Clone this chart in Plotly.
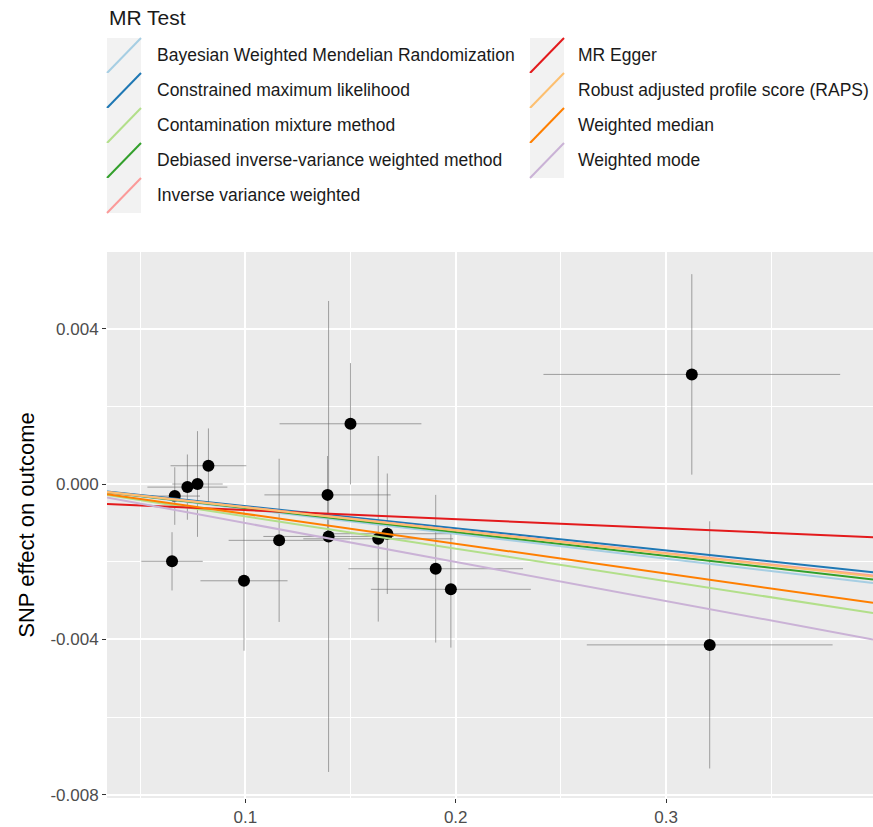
import numpy as np
import plotly.graph_objects as go

# ---------------- data ----------------
snp_exposure = [0.0665, 0.0725, 0.0773, 0.0825, 0.0652, 0.0994, 0.1161, 0.1391,
                0.1396, 0.1500, 0.1632, 0.1675, 0.1905, 0.1977, 0.3122, 0.3207]
snp_outcome = [-0.00031, -0.00008, 0.00000, 0.00047, -0.00199, -0.00249, -0.00145, -0.00028,
               -0.00135, 0.00155, -0.00141, -0.00128, -0.00218, -0.00271, 0.00282, -0.00414]
se_exposure = [0.0120, 0.0190, 0.0120, 0.0180, 0.0146, 0.0207, 0.0240, 0.0300,
               0.0310, 0.0337, 0.0356, 0.0300, 0.0415, 0.0380, 0.0705, 0.0584]
se_outcome = [0.00074, 0.00084, 0.00136, 0.00096, 0.00075, 0.00180, 0.00210, 0.00100,
              0.00606, 0.00156, 0.00213, 0.00155, 0.00190, 0.00150, 0.00258, 0.00318]

methods = ["Bayesian Weighted Mendelian Randomization",
           "Constrained maximum likelihood",
           "Contamination mixture method",
           "Debiased inverse-variance weighted method",
           "Inverse variance weighted",
           "MR Egger",
           "Robust adjusted profile score (RAPS)",
           "Weighted median",
           "Weighted mode"]
slopes = [-0.00640, -0.00570, -0.00833, -0.00617, -0.00592, -0.00234, -0.00598, -0.00768, -0.01004]
intercepts = [0, 0, 0, 0, 0, -0.000437, 0, 0, 0]
colors = ["#A6CEE3", "#1F78B4", "#B2DF8A", "#33A02C", "#FB9A99",
          "#E31A1C", "#FDBF6F", "#FF7F00", "#CAB2D6"]

x_ticks = [0.1, 0.2, 0.3]
x_tick_labels = ["0.1", "0.2", "0.3"]
y_ticks = [0.004, 0.0, -0.004, -0.008]
y_tick_labels = ["0.004", "0.000", "-0.004", "-0.008"]

x_range = [0.0343, 0.3983]
y_range = [-0.00808, 0.00597]

# ---------------- layout geometry ----------------
W, H = 873, 827
ML, MR_, MT, MB = 107, 0, 252, 29
PW, PH = W - ML - MR_, H - MT - MB


def px(xp):
    return (xp - ML) / PW


def py(yp):
    return (H - MB - yp) / PH


FONT = "Liberation Sans, Arial, sans-serif"

fig = go.Figure()

# points with error bars
fig.add_trace(go.Scatter(
    x=snp_exposure, y=snp_outcome, mode="markers",
    marker=dict(color="black", size=12),
    error_x=dict(type="data", array=se_exposure, color="rgba(105,105,105,0.6)", thickness=1, width=0),
    error_y=dict(type="data", array=se_outcome, color="rgba(105,105,105,0.6)", thickness=1, width=0),
    showlegend=False, hoverinfo="skip"))

# regression lines
xl = np.array(x_range)
for name, b, a, c in zip(methods, slopes, intercepts, colors):
    fig.add_trace(go.Scatter(x=xl, y=a + b * xl, mode="lines",
                             line=dict(color=c, width=2), name=name,
                             showlegend=False, hoverinfo="skip"))

# custom legend (ggplot-like keys)
shapes = []
annotations = []
key_h = 35
top0 = 38
cols = [(107, 141, 155), (530, 564, 576)]
for i, (name, c) in enumerate(zip(methods, colors)):
    col, row = divmod(i, 5)
    kx0, kx1, tx = cols[col]
    y0 = top0 + row * key_h
    y1 = y0 + key_h
    shapes.append(dict(type="rect", xref="paper", yref="paper",
                       x0=px(kx0), x1=px(kx1), y0=py(y1), y1=py(y0),
                       fillcolor="#F2F2F2", line=dict(width=0), layer="above"))
    shapes.append(dict(type="line", xref="paper", yref="paper",
                       x0=px(kx0), x1=px(kx1), y0=py(y1), y1=py(y0),
                       line=dict(color=c, width=2), layer="above"))
    annotations.append(dict(text=name, xref="paper", yref="paper",
                            x=px(tx), y=py((y0 + y1) / 2), xanchor="left", yanchor="middle",
                            showarrow=False, font=dict(size=17.5, color="#1a1a1a", family=FONT)))

annotations.append(dict(text="MR Test", xref="paper", yref="paper",
                        x=px(107), y=py(18), xanchor="left", yanchor="middle",
                        showarrow=False, font=dict(size=21, color="#1a1a1a", family=FONT)))

fig.update_layout(
    width=W, height=H,
    margin=dict(l=ML, r=MR_, t=MT, b=MB),
    paper_bgcolor="white", plot_bgcolor="#EBEBEB",
    font=dict(family=FONT),
    shapes=shapes, annotations=annotations,
    showlegend=False,
    xaxis=dict(range=x_range, tickvals=x_ticks, ticktext=x_tick_labels,
               showgrid=True, gridcolor="white", gridwidth=2, zeroline=False,
               ticks="outside", ticklen=4, tickcolor="#333333", tickwidth=1,
               tickfont=dict(size=17, color="#4D4D4D", family=FONT),
               minor=dict(tick0=0, dtick=0.05, showgrid=True, gridcolor="white", gridwidth=1, ticks=""),
               showline=False),
    yaxis=dict(range=y_range, tickvals=y_ticks, ticktext=y_tick_labels,
               showgrid=True, gridcolor="white", gridwidth=2, zeroline=False,
               ticks="outside", ticklen=4, tickcolor="#333333", tickwidth=1,
               tickfont=dict(size=17, color="#4D4D4D", family=FONT),
               minor=dict(tick0=0, dtick=0.002, showgrid=True, gridcolor="white", gridwidth=1, ticks=""),
               title=dict(text="SNP effect on outcome", standoff=9,
                          font=dict(size=22, color="black", family=FONT)),
               showline=False),
)

fig.write_html("out.html")
